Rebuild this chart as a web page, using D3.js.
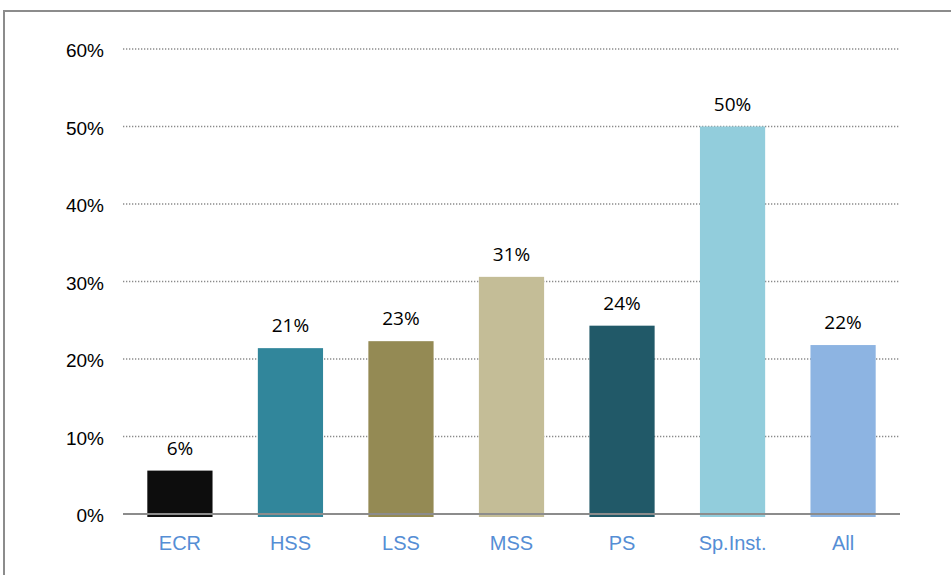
<!DOCTYPE html>
<html>
<head>
<meta charset="utf-8">
<script src="https://cdn.jsdelivr.net/npm/d3@7"></script>
<style>
  body { margin: 0; background: #fff; }
  svg { display: block; font-family: "Open Sans", "Liberation Sans", sans-serif; }
</style>
</head>
<body>
<svg id="chart" width="951" height="575"></svg>
<script>
const categories = ['ECR', 'HSS', 'LSS', 'MSS', 'PS', 'Sp.Inst.', 'All'];
const values = [0.056, 0.214, 0.223, 0.306, 0.243, 0.50, 0.218];
const valueLabels = ['6%', '21%', '23%', '31%', '24%', '50%', '22%'];
const colors = ['#0d0d0d', '#31869b', '#948a54', '#c4bd97', '#215968', '#92cddc', '#8db4e2'];
const yTicks = [0, 0.1, 0.2, 0.3, 0.4, 0.5, 0.6];

const svg = d3.select('#chart');
const margin = { top: 49, right: 51, bottom: 60, left: 123 };
const width = 951, height = 575;
const innerWidth = width - margin.left - margin.right;
const innerHeight = height - margin.top - margin.bottom - 1;

// outer frame (only top and left edges are visible)
svg.append('path')
    .attr('d', 'M4,575 L4,11 L951,11')
    .attr('fill', 'none')
    .attr('stroke', '#8c8c8c')
    .attr('stroke-width', 2);

const x = d3.scaleBand()
    .domain(categories)
    .range([0, innerWidth])
    .paddingInner(0.41)
    .paddingOuter(0.22);
const y = d3.scaleLinear()
    .domain([0, 0.6])
    .range([innerHeight, 0]);

const g = svg.append('g')
    .attr('transform', `translate(${margin.left},${margin.top})`);

// gridlines
g.selectAll('.grid')
    .data(yTicks.filter(d => d > 0))
    .enter()
    .append('line')
    .attr('x1', 0).attr('x2', innerWidth)
    .attr('y1', d => y(d)).attr('y2', d => y(d))
    .attr('stroke', '#8a8a8a')
    .attr('stroke-width', 1.3)
    .attr('stroke-dasharray', '1.3,1.7');

// y axis labels
const yAxis = g.append('g')
    .call(d3.axisLeft(y).tickValues(yTicks).tickFormat(d3.format('.0%')).tickSize(0).tickPadding(19));
yAxis.select('.domain').remove();
yAxis.selectAll('text')
    .attr('dy', '0.42em')
    .style('font-size', '19px')
    .style('fill', '#000');

// bars
g.selectAll('.bar')
    .data(categories)
    .enter()
    .append('rect')
    .attr('x', d => x(d))
    .attr('y', (d, i) => y(values[i]))
    .attr('width', x.bandwidth())
    .attr('height', (d, i) => y(0) - y(values[i]) + 3)
    .attr('fill', (d, i) => colors[i]);

// baseline
g.append('line')
    .attr('x1', 0).attr('x2', innerWidth)
    .attr('y1', y(0)).attr('y2', y(0))
    .attr('stroke', '#8c8c8c')
    .attr('stroke-width', 2);

// value labels
g.selectAll('.vlabel')
    .data(categories)
    .enter()
    .append('text')
    .attr('x', d => x(d) + x.bandwidth() / 2)
    .attr('y', (d, i) => y(values[i]) - 16)
    .attr('text-anchor', 'middle')
    .style('font-size', '19px')
    .style('fill', '#000')
    .text((d, i) => valueLabels[i]);

// x axis labels
const xAxis = g.append('g')
    .attr('transform', `translate(0,${innerHeight})`)
    .call(d3.axisBottom(x).tickSize(0).tickPadding(22));
xAxis.select('.domain').remove();
xAxis.selectAll('text')
    .style('font-size', '20px')
    .style('fill', '#558ed5');
</script>
</body>
</html>
